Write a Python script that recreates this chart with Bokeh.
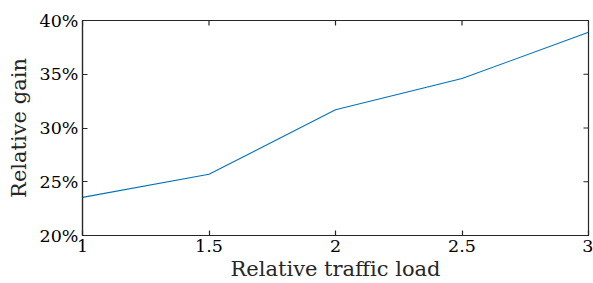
from bokeh.plotting import figure
from bokeh.models import FixedTicker, Range1d, CustomJSTickFormatter
from bokeh.embed import file_html
from bokeh.resources import INLINE

load = [1, 1.5, 2, 2.5, 3]
gain = [23.55, 25.7, 31.7, 34.6, 38.9]
x_ticks = [1, 1.5, 2, 2.5, 3]
y_ticks = [20, 25, 30, 35, 40]
x_min, x_max = 1, 3
y_min, y_max = 20, 40

FONT = "DejaVu Serif"
EDGE = "#262626"

p = figure(width=593, height=283, output_backend="svg", toolbar_location=None,
           x_range=Range1d(x_min, x_max), y_range=Range1d(y_min, y_max),
           min_border_left=82, min_border_right=5, min_border_top=20, min_border_bottom=46)
p.grid.visible = False
p.outline_line_color = EDGE
p.outline_line_width = 1.2
p.background_fill_color = "white"
p.border_fill_color = "white"

p.line(load, gain, line_color="#0072BD", line_width=1.1)

# inward ticks on top and right edges
p.ray(x=x_ticks, y=[y_max] * len(x_ticks), length=5, length_units="screen",
      angle=-90, angle_units="deg", line_color=EDGE, line_width=1.2)
p.ray(x=[x_max] * len(y_ticks), y=y_ticks, length=5, length_units="screen",
      angle=180, angle_units="deg", line_color=EDGE, line_width=1.2)

for ax in (p.xaxis[0], p.yaxis[0]):
    ax.axis_line_color = EDGE
    ax.axis_line_width = 1.2
    ax.major_tick_in = 5
    ax.major_tick_out = 0
    ax.minor_tick_line_color = None
    ax.major_tick_line_color = EDGE
    ax.major_tick_line_width = 1.2
    ax.major_label_text_font = FONT
    ax.major_label_text_font_size = "17.5px"
    ax.major_label_text_color = "black"
    ax.axis_label_text_font = FONT
    ax.axis_label_text_font_size = "21px"
    ax.axis_label_text_font_style = "normal"
    ax.axis_label_text_color = EDGE

xa = p.xaxis[0]
ya = p.yaxis[0]
xa.ticker = FixedTicker(ticks=x_ticks)
ya.ticker = FixedTicker(ticks=y_ticks)
ya.formatter = CustomJSTickFormatter(code="return tick + '%';")
xa.axis_label = "Relative traffic load"
ya.axis_label = "Relative gain"
xa.major_label_standoff = 4
xa.axis_label_standoff = 2
ya.major_label_standoff = 4
ya.axis_label_standoff = 6

open("out.html", "w").write(file_html(p, INLINE))
